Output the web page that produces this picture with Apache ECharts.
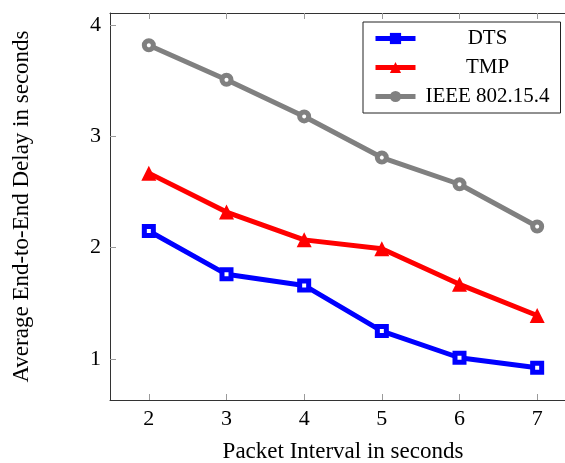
<!DOCTYPE html>
<html>
<head>
<meta charset="utf-8">
<script src="https://cdn.jsdelivr.net/npm/echarts@6/dist/echarts.min.js"></script>
<style>html,body{margin:0;padding:0;background:#fff}#c{width:565px;height:463px}</style>
</head>
<body>
<div id="c"></div>
<script>
const xValues = [2, 3, 4, 5, 6, 7];
const dts = [2.15, 1.76, 1.66, 1.25, 1.01, 0.92];
const tmp = [2.67, 2.32, 2.07, 1.99, 1.67, 1.39];
const ieee = [3.82, 3.51, 3.18, 2.81, 2.57, 2.19];
const yTicks = [1, 2, 3, 4];
const seriesNames = ['DTS', 'TMP', 'IEEE 802.15.4'];
const xTitle = 'Packet Interval in seconds';
const yTitle = 'Average End-to-End Delay in seconds';

const FONT = '"Liberation Serif", "DejaVu Serif", serif';
const colors = ['#0000ff', '#ff0000', '#808080'];
const symbols = ['rect', 'triangle', 'circle'];
const data = [dts, tmp, ieee];

const chart = echarts.init(document.getElementById('c'), null, {renderer: 'canvas'});
const tickStyle = {show: true, inside: true, length: 6, lineStyle: {color: '#9a9a9a', width: 1}};
const lineAx = {show: true, lineStyle: {color: '#333', width: 1}};

chart.setOption({
  animation: false,
  backgroundColor: '#fff',
  grid: {left: 110, top: 13, width: 466, height: 387, show: false, outerBoundsMode: 'none', containLabel: false},
  legend: {
    orient: 'vertical',
    left: 363, top: 22,
    backgroundColor: '#fff',
    borderColor: '#222', borderWidth: 1,
    padding: [6, 6, 6, 10],
    itemWidth: 40, itemHeight: 14, itemGap: 8,
    textStyle: {fontFamily: FONT, fontSize: 21, color: '#000',
      rich: {c: {fontFamily: FONT, fontSize: 21, lineHeight: 21, color: '#000', width: 134, align: 'center'}}},
    formatter: function (n) { return '{c|' + n + '}'; },
    data: seriesNames.map((n, i) => ({name: n,
      lineStyle: {color: colors[i], width: 5},
      itemStyle: {color: colors[i], borderColor: colors[i], borderWidth: 0}}))
  },
  xAxis: [{
    type: 'value', min: 1.5, max: 7.5, position: 'bottom',
    axisLine: lineAx,
    axisTick: Object.assign({customValues: xValues}, tickStyle),
    axisLabel: {customValues: xValues, fontFamily: FONT, fontSize: 22, color: '#000', margin: 8},
    splitLine: {show: false},
    name: xTitle, nameLocation: 'middle', nameGap: 40,
    nameTextStyle: {fontFamily: FONT, fontSize: 23, color: '#000'}
  }, {
    type: 'value', min: 1.5, max: 7.5, position: 'top',
    axisLine: lineAx,
    axisTick: Object.assign({customValues: xValues}, tickStyle),
    axisLabel: {show: false}, splitLine: {show: false}
  }],
  yAxis: [{
    type: 'value', min: 0.63, max: 4.11, position: 'left',
    axisLine: lineAx,
    axisTick: Object.assign({customValues: yTicks}, tickStyle),
    axisLabel: {customValues: yTicks, fontFamily: FONT, fontSize: 22, color: '#000', margin: 9},
    splitLine: {show: false},
    name: yTitle, nameLocation: 'middle', nameGap: 77,
    nameTextStyle: {fontFamily: FONT, fontSize: 23, color: '#000'}
  }, {
    type: 'value', min: 0.63, max: 4.11, position: 'right',
    axisLine: lineAx,
    axisTick: Object.assign({customValues: yTicks}, tickStyle),
    axisLabel: {show: false}, splitLine: {show: false}
  }],
  series: seriesNames.map((n, i) => ({
    name: n, type: 'line',
    data: xValues.map((x, j) => [x, data[i][j]]),
    symbol: symbols[i],
    symbolSize: symbols[i] === 'triangle' ? 15 : 9,
    showAllSymbol: true,
    lineStyle: {color: colors[i], width: 5},
    itemStyle: {color: symbols[i] === 'triangle' ? colors[i] : '#fff', borderColor: colors[i], borderWidth: symbols[i] === 'triangle' ? 0 : 5},
    emphasis: {disabled: true}
  }))
});
</script>
</body>
</html>
